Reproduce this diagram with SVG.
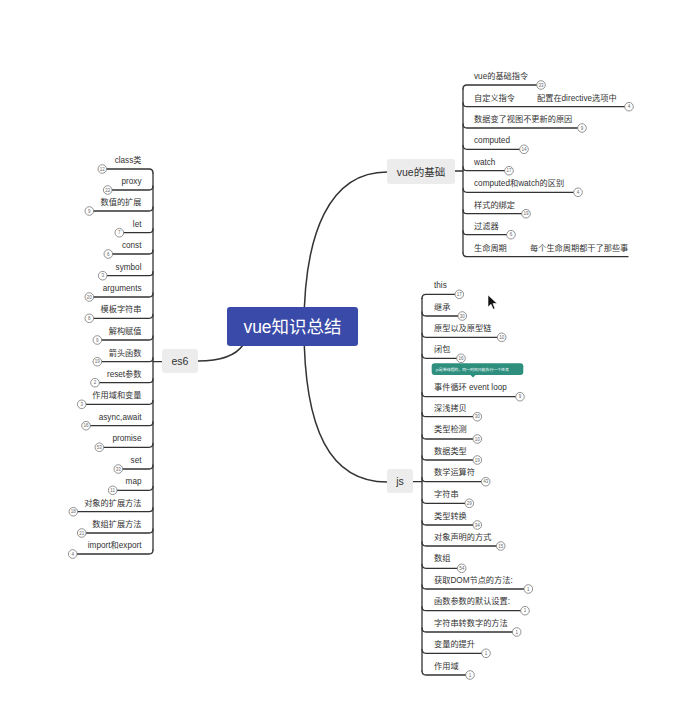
<svg xmlns="http://www.w3.org/2000/svg" width="696" height="705" viewBox="0 0 696 705">
  <style>
    .t { font-family: "Liberation Sans", "Noto Sans CJK SC", sans-serif; font-size: 8.2px; fill: #333333; }
    .te { font-family: "Liberation Sans", "Noto Sans CJK SC", sans-serif; font-size: 8.2px; fill: #333333; text-anchor: end; }
    .ln { fill: none; stroke: #333333; stroke-width: 1.3; stroke-linecap: round; }
    .curve { fill: none; stroke: #333333; stroke-width: 1.5; }
    .bd circle { fill: #ffffff; stroke: #777777; stroke-width: 0.8; }
    .bd text { font-family: "Liberation Sans", sans-serif; font-size: 4.5px; fill: #666666; text-anchor: middle; }
    .sub { fill: #ececec; }
    .subt { font-family: "Liberation Sans", "Noto Sans CJK SC", sans-serif; font-size: 10.5px; fill: #333333; text-anchor: middle; }
  </style>
  <rect width="696" height="705" fill="#ffffff"/>

  <!-- main connectors from the root topic -->
  <g id="connectors">
    <path class="curve" d="M304 327 C304 232 330 172 387 172"/>
    <path class="curve" d="M304 327 C304 430 330 482 387 482"/>
    <path class="curve" d="M198 361 C222 361 236 355 243 345"/>
    <line class="ln" x1="455" y1="171" x2="463" y2="171"/>
    <line class="ln" x1="413" y1="481.7" x2="422" y2="481.7"/>
    <line class="ln" x1="162" y1="361.7" x2="153" y2="361.7"/>
  </g>

  <!-- root topic -->
  <g id="root">
    <rect x="227" y="307" width="131" height="39" rx="3" fill="#3a4aa8"/>
    <text x="292.5" y="333" font-family="Liberation Sans, Noto Sans CJK SC, sans-serif" font-size="17.5" fill="#ffffff" text-anchor="middle">vue知识总结</text>
  </g>

  <!-- vue的基础 -->
  <g id="vue-basics">
    <rect class="sub" x="387" y="159" width="68" height="25" rx="3"/>
    <text class="subt" x="421" y="175.5">vue的基础</text>
    <path class="ln" d="M463 89 L463 252.7"/>
    <path class="ln" d="M463 89 Q463 85 467 85 L536.5 85"/>
    <path class="ln" d="M463 102.7 Q463 106.7 467 106.7 L624.5 106.7"/>
    <path class="ln" d="M463 124 Q463 128 467 128 L577.5 128"/>
    <path class="ln" d="M463 145.3 Q463 149.3 467 149.3 L519.5 149.3"/>
    <path class="ln" d="M463 166.7 Q463 170.7 467 170.7 L504.5 170.7"/>
    <path class="ln" d="M463 188.3 Q463 192.3 467 192.3 L573.5 192.3"/>
    <path class="ln" d="M463 209.7 Q463 213.7 467 213.7 L521.5 213.7"/>
    <path class="ln" d="M463 230.7 Q463 234.7 467 234.7 L506.5 234.7"/>
    <path class="ln" d="M463 252.7 Q463 256.7 467 256.7 L628 256.7"/>
    <text class="t" x="474" y="79">vue的基础指令</text>
    <text class="t" x="474" y="100.7">自定义指令</text>
    <text class="t" x="537" y="100.7">配置在directive选项中</text>
    <text class="t" x="474" y="122">数据变了视图不更新的原因</text>
    <text class="t" x="474" y="143.3">computed</text>
    <text class="t" x="474" y="164.7">watch</text>
    <text class="t" x="474" y="186.3">computed和watch的区别</text>
    <text class="t" x="474" y="207.7">样式的绑定</text>
    <text class="t" x="474" y="228.7">过滤器</text>
    <text class="t" x="474" y="250.7">生命周期</text>
    <text class="t" x="530" y="250.7">每个生命周期都干了那些事</text>
    <g class="bd">
      <circle cx="541" cy="85" r="4.3"/><text x="541" y="86.6">33</text>
      <circle cx="629" cy="106.7" r="4.3"/><text x="629" y="108.3">4</text>
      <circle cx="582" cy="128" r="4.3"/><text x="582" y="129.6">9</text>
      <circle cx="524" cy="149.3" r="4.3"/><text x="524" y="150.9">14</text>
      <circle cx="509" cy="170.7" r="4.3"/><text x="509" y="172.3">17</text>
      <circle cx="578" cy="192.3" r="4.3"/><text x="578" y="193.9">4</text>
      <circle cx="526" cy="213.7" r="4.3"/><text x="526" y="215.3">19</text>
      <circle cx="511" cy="234.7" r="4.3"/><text x="511" y="236.3">6</text>
    </g>
  </g>

  <!-- es6 -->
  <g id="es6">
    <rect class="sub" x="162" y="349" width="36" height="24" rx="3"/>
    <text class="subt" x="180" y="365">es6</text>
    <path class="ln" d="M153 173 L153 550"/>
    <path class="ln" d="M153 173 Q153 169 149 169 L106.5 169"/>
    <path class="ln" d="M153 186 Q153 190 149 190 L112 190"/>
    <path class="ln" d="M153 207 Q153 211 149 211 L93.5 211"/>
    <path class="ln" d="M153 228.7 Q153 232.7 149 232.7 L123.5 232.7"/>
    <path class="ln" d="M153 250 Q153 254 149 254 L112.5 254"/>
    <path class="ln" d="M153 271.7 Q153 275.7 149 275.7 L107 275.7"/>
    <path class="ln" d="M153 293 Q153 297 149 297 L93.5 297"/>
    <path class="ln" d="M153 314.3 Q153 318.3 149 318.3 L93.5 318.3"/>
    <path class="ln" d="M153 336 Q153 340 149 340 L101.5 340"/>
    <path class="ln" d="M153 357.7 Q153 361.7 149 361.7 L101.5 361.7"/>
    <path class="ln" d="M153 378.7 Q153 382.7 149 382.7 L99.5 382.7"/>
    <path class="ln" d="M153 400.3 Q153 404.3 149 404.3 L86 404.3"/>
    <path class="ln" d="M153 421.7 Q153 425.7 149 425.7 L90.5 425.7"/>
    <path class="ln" d="M153 443.3 Q153 447.3 149 447.3 L103.5 447.3"/>
    <path class="ln" d="M153 465 Q153 469 149 469 L122.5 469"/>
    <path class="ln" d="M153 486.3 Q153 490.3 149 490.3 L117 490.3"/>
    <path class="ln" d="M153 507.7 Q153 511.7 149 511.7 L77.5 511.7"/>
    <path class="ln" d="M153 529 Q153 533 149 533 L86 533"/>
    <path class="ln" d="M153 550 Q153 554 149 554 L77 554"/>
    <text class="te" x="141.5" y="163">class类</text>
    <text class="te" x="141.5" y="184">proxy</text>
    <text class="te" x="141.5" y="205">数值的扩展</text>
    <text class="te" x="141.5" y="226.7">let</text>
    <text class="te" x="141.5" y="248">const</text>
    <text class="te" x="141.5" y="269.7">symbol</text>
    <text class="te" x="141.5" y="291">arguments</text>
    <text class="te" x="141.5" y="312.3">模板字符串</text>
    <text class="te" x="141.5" y="334">解构赋值</text>
    <text class="te" x="141.5" y="355.7">箭头函数</text>
    <text class="te" x="141.5" y="376.7">reset参数</text>
    <text class="te" x="141.5" y="398.3">作用域和变量</text>
    <text class="te" x="141.5" y="419.7">async,await</text>
    <text class="te" x="141.5" y="441.3">promise</text>
    <text class="te" x="141.5" y="463">set</text>
    <text class="te" x="141.5" y="484.3">map</text>
    <text class="te" x="141.5" y="505.7">对象的扩展方法</text>
    <text class="te" x="141.5" y="527">数组扩展方法</text>
    <text class="te" x="141.5" y="548">import和export</text>
    <g class="bd">
      <circle cx="102.3" cy="169" r="4.3"/><text x="102.3" y="170.6">12</text>
      <circle cx="107.7" cy="190" r="4.3"/><text x="107.7" y="191.6">22</text>
      <circle cx="89.3" cy="211" r="4.3"/><text x="89.3" y="212.6">9</text>
      <circle cx="119.3" cy="232.7" r="4.3"/><text x="119.3" y="234.3">7</text>
      <circle cx="108.3" cy="254" r="4.3"/><text x="108.3" y="255.6">6</text>
      <circle cx="102.7" cy="275.7" r="4.3"/><text x="102.7" y="277.3">3</text>
      <circle cx="89.3" cy="297" r="4.3"/><text x="89.3" y="298.6">20</text>
      <circle cx="89.3" cy="318.3" r="4.3"/><text x="89.3" y="319.9">8</text>
      <circle cx="97.3" cy="340" r="4.3"/><text x="97.3" y="341.6">9</text>
      <circle cx="97.3" cy="361.7" r="4.3"/><text x="97.3" y="363.3">19</text>
      <circle cx="95" cy="382.7" r="4.3"/><text x="95" y="384.3">2</text>
      <circle cx="81.7" cy="404.3" r="4.3"/><text x="81.7" y="405.9">3</text>
      <circle cx="86" cy="425.7" r="4.3"/><text x="86" y="427.3">16</text>
      <circle cx="99.3" cy="447.3" r="4.3"/><text x="99.3" y="448.9">53</text>
      <circle cx="118.3" cy="469" r="4.3"/><text x="118.3" y="470.6">33</text>
      <circle cx="112.7" cy="490.3" r="4.3"/><text x="112.7" y="491.9">11</text>
      <circle cx="73.3" cy="511.7" r="4.3"/><text x="73.3" y="513.3">18</text>
      <circle cx="81.7" cy="533" r="4.3"/><text x="81.7" y="534.6">21</text>
      <circle cx="72.7" cy="554" r="4.3"/><text x="72.7" y="555.6">4</text>
    </g>
  </g>

  <!-- js -->
  <g id="js">
    <rect class="sub" x="387" y="469" width="26" height="24" rx="3"/>
    <text class="subt" x="400" y="485">js</text>
    <path class="ln" d="M422 298.3 L422 671"/>
    <path class="ln" d="M422 298.3 Q422 294.3 426 294.3 L455 294.3"/>
    <path class="ln" d="M422 312 Q422 316 426 316 L458 316"/>
    <path class="ln" d="M422 333.3 Q422 337.3 426 337.3 L497.5 337.3"/>
    <path class="ln" d="M422 354.3 Q422 358.3 426 358.3 L456.7 358.3"/>
    <path class="ln" d="M422 392.7 Q422 396.7 426 396.7 L515.7 396.7"/>
    <path class="ln" d="M422 412.7 Q422 416.7 426 416.7 L473 416.7"/>
    <path class="ln" d="M422 435 Q422 439 426 439 L473 439"/>
    <path class="ln" d="M422 456 Q422 460 426 460 L473 460"/>
    <path class="ln" d="M422 477.7 Q422 481.7 426 481.7 L481.4 481.7"/>
    <path class="ln" d="M422 499.3 Q422 503.3 426 503.3 L465 503.3"/>
    <path class="ln" d="M422 521 Q422 525 426 525 L473 525"/>
    <path class="ln" d="M422 542 Q422 546 426 546 L496.4 546"/>
    <path class="ln" d="M422 564.3 Q422 568.3 426 568.3 L457.4 568.3"/>
    <path class="ln" d="M422 585 Q422 589 426 589 L524 589"/>
    <path class="ln" d="M422 606.7 Q422 610.7 426 610.7 L520.7 610.7"/>
    <path class="ln" d="M422 628 Q422 632 426 632 L512.4 632"/>
    <path class="ln" d="M422 649.3 Q422 653.3 426 653.3 L481.7 653.3"/>
    <path class="ln" d="M422 671 Q422 675 426 675 L465.7 675"/>
    <text class="t" x="434" y="288.3">this</text>
    <text class="t" x="434" y="310">继承</text>
    <text class="t" x="434" y="331.3">原型以及原型链</text>
    <text class="t" x="434" y="352.3">闭包</text>
    <text class="t" x="434" y="389.7">事件循环 event loop</text>
    <text class="t" x="434" y="410.7">深浅拷贝</text>
    <text class="t" x="434" y="432.3">类型检测</text>
    <text class="t" x="434" y="454.3">数据类型</text>
    <text class="t" x="434" y="475.3">数学运算符</text>
    <text class="t" x="434" y="496.7">字符串</text>
    <text class="t" x="434" y="518.7">类型转换</text>
    <text class="t" x="434" y="540">对象声明的方式</text>
    <text class="t" x="434" y="561.3">数组</text>
    <text class="t" x="434" y="583.3">获取DOM节点的方法:</text>
    <text class="t" x="434" y="604.3">函数参数的默认设置:</text>
    <text class="t" x="434" y="626">字符串转数字的方法</text>
    <text class="t" x="434" y="647.3">变量的提升</text>
    <text class="t" x="434" y="668.7">作用域</text>
    <g class="bd">
      <circle cx="459.3" cy="294.3" r="4.3"/><text x="459.3" y="295.9">17</text>
      <circle cx="462.3" cy="316" r="4.3"/><text x="462.3" y="317.6">30</text>
      <circle cx="501.7" cy="337.3" r="4.3"/><text x="501.7" y="338.9">10</text>
      <circle cx="461" cy="358.3" r="4.3"/><text x="461" y="359.9">16</text>
      <circle cx="520" cy="396.7" r="4.3"/><text x="520" y="398.3">9</text>
      <circle cx="477.3" cy="416.7" r="4.3"/><text x="477.3" y="418.3">30</text>
      <circle cx="477.3" cy="439" r="4.3"/><text x="477.3" y="440.6">10</text>
      <circle cx="477.3" cy="460" r="4.3"/><text x="477.3" y="461.6">19</text>
      <circle cx="485.7" cy="481.7" r="4.3"/><text x="485.7" y="483.3">43</text>
      <circle cx="469.3" cy="503.3" r="4.3"/><text x="469.3" y="504.9">29</text>
      <circle cx="477.3" cy="525" r="4.3"/><text x="477.3" y="526.6">34</text>
      <circle cx="500.7" cy="546" r="4.3"/><text x="500.7" y="547.6">15</text>
      <circle cx="461.7" cy="568.3" r="4.3"/><text x="461.7" y="569.9">54</text>
      <circle cx="528.3" cy="589" r="4.3"/><text x="528.3" y="590.6">1</text>
      <circle cx="525" cy="610.7" r="4.3"/><text x="525" y="612.3">1</text>
      <circle cx="516.7" cy="632" r="4.3"/><text x="516.7" y="633.6">1</text>
      <circle cx="486" cy="653.3" r="4.3"/><text x="486" y="654.9">1</text>
      <circle cx="470" cy="675" r="4.3"/><text x="470" y="676.6">1</text>
    </g>
    <!-- note callout on 闭包 -->
    <g id="note">
      <rect x="431.7" y="363.3" width="91.6" height="11.7" rx="3" fill="#2f8f7f"/>
      <path d="M470.5 375 L473 377.5 L475.5 375 Z" fill="#2f8f7f"/>
      <text x="436" y="370.7" font-family="Liberation Sans, Noto Sans CJK SC, sans-serif" font-size="3.9" fill="#ffffff">js是单线程的，同一时间只能执行一个任务</text>
    </g>
  </g>

  <!-- mouse pointer -->
  <path d="M488 295 L488 307 L491 304.3 L493.2 309.2 L495 308.4 L492.9 303.6 L497 303.4 Z" fill="#111111" stroke="#ffffff" stroke-width="0.6"/>
</svg>
